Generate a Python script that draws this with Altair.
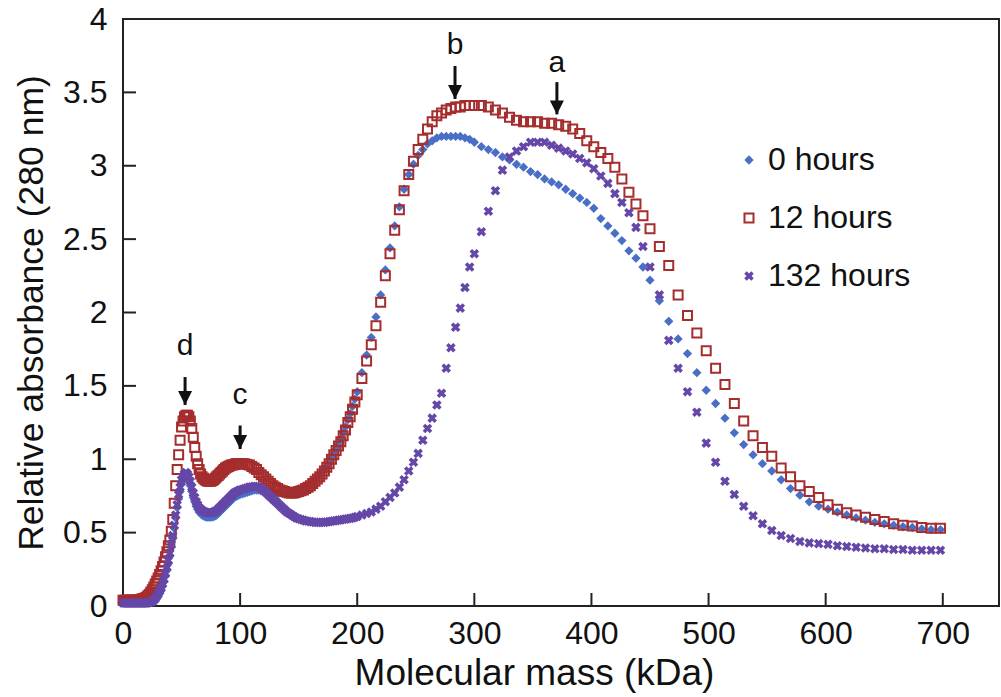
import altair as alt
import pandas as pd

# ---------------- data ----------------
mass_kda = [
    0, 1.25, 2.5, 3.75, 5, 6.25, 7.5, 8.75, 10, 11.25,
    12.5, 13.75, 15, 16.25, 17.5, 18.75, 20, 21.25, 22.5, 23.75,
    25, 26.25, 27.5, 28.75, 30, 31.25, 32.5, 33.75, 35, 36.25,
    37.5, 38.75, 40, 41.25, 42.5, 43.75, 45, 46.25, 47.5, 48.75,
    50, 51.25, 52.5, 53.75, 55, 56.25, 57.5, 58.75, 60, 61.25,
    62.5, 63.75, 65, 66.25, 67.5, 68.75, 70, 71.25, 72.5, 73.75,
    75, 76.25, 77.5, 78.75, 80, 81.25, 82.5, 83.75, 85, 86.25,
    87.5, 88.75, 90, 91.25, 92.5, 93.75, 95, 96.25, 97.5, 98.75,
    100,
    102, 104, 106, 108, 110, 112, 114, 116, 118, 120,
    122, 124, 126, 128, 130, 132, 134, 136, 138, 140,
    142, 144, 146, 148, 150, 152, 154, 156, 158, 160,
    162, 164, 166, 168, 170, 172, 174, 176, 178, 180,
    182, 184, 186, 188, 190, 192, 194, 196, 198, 200,
    204, 208, 212, 216, 220, 224, 228, 232, 236, 240, 244, 248, 252, 256, 260, 264, 268, 272, 276, 280,
    284, 288, 292, 296,
    300, 306, 312, 318, 324, 330, 336, 342, 348, 354, 360, 366, 372, 378, 384, 390, 396, 402, 408, 414,
    420, 426, 432, 438, 444, 450,
    458, 466, 474, 482, 490, 498, 506, 514, 522, 530, 538, 546, 554, 562, 570, 578, 586, 594, 602, 610,
    618, 626, 634, 642, 650, 658, 666, 674, 682, 690, 698]

abs_0h = [
    0.02, 0.02, 0.02, 0.02, 0.02, 0.02, 0.02, 0.02, 0.02, 0.02,
    0.02, 0.02, 0.02, 0.02, 0.02, 0.02, 0.02, 0.02, 0.022, 0.025,
    0.028, 0.035, 0.045, 0.06, 0.075, 0.095, 0.115, 0.14, 0.17, 0.21,
    0.25, 0.29, 0.34, 0.40, 0.46, 0.53, 0.60, 0.67, 0.73, 0.78,
    0.83, 0.86, 0.87, 0.88, 0.87, 0.85, 0.82, 0.78, 0.74, 0.71,
    0.68, 0.66, 0.64, 0.63, 0.62, 0.615, 0.61, 0.605, 0.605, 0.605,
    0.605, 0.607, 0.61, 0.615, 0.62, 0.63, 0.64, 0.65, 0.66, 0.67,
    0.68, 0.69, 0.70, 0.71, 0.72, 0.73, 0.74, 0.745, 0.75, 0.755,
    0.76,
    0.765, 0.77, 0.775, 0.78, 0.785, 0.79, 0.79, 0.79, 0.785, 0.78,
    0.775, 0.77, 0.77, 0.77, 0.77, 0.77, 0.77, 0.77, 0.77, 0.77,
    0.77, 0.77, 0.775, 0.78, 0.785, 0.79, 0.80, 0.81, 0.82, 0.83,
    0.845, 0.86, 0.875, 0.89, 0.91, 0.93, 0.955, 0.98, 1.01, 1.04,
    1.07, 1.10, 1.14, 1.18, 1.22, 1.27, 1.31, 1.36, 1.41, 1.46,
    1.59, 1.71, 1.83, 1.97, 2.12, 2.29, 2.44, 2.59, 2.72, 2.84, 2.94, 3.01, 3.07, 3.11, 3.15, 3.17, 3.19, 3.20,
    3.20, 3.20, 3.20, 3.20, 3.19, 3.18,
    3.16, 3.13, 3.11, 3.09, 3.06, 3.04, 3.01, 2.99, 2.96, 2.94, 2.91, 2.89, 2.87, 2.84, 2.81, 2.78, 2.75, 2.71,
    2.64, 2.59, 2.54, 2.49, 2.42, 2.37, 2.31, 2.22,
    2.08, 1.94, 1.82, 1.72, 1.59, 1.47, 1.38, 1.28, 1.18, 1.10, 1.03, 0.97, 0.92, 0.86, 0.80, 0.755, 0.71, 0.68,
    0.66, 0.64, 0.62, 0.60, 0.585, 0.57, 0.56, 0.55, 0.54, 0.535, 0.525, 0.52, 0.52]

abs_12h = [
    0.04, 0.04, 0.04, 0.04, 0.04, 0.04, 0.04, 0.04, 0.04, 0.04,
    0.04, 0.045, 0.045, 0.05, 0.05, 0.055, 0.06, 0.07, 0.08, 0.095,
    0.11, 0.13, 0.15, 0.17, 0.19, 0.215, 0.24, 0.27, 0.30, 0.335,
    0.37, 0.41, 0.45, 0.51, 0.59, 0.70, 0.82, 0.93, 1.03, 1.13,
    1.22, 1.26, 1.29, 1.30, 1.30, 1.29, 1.26, 1.21, 1.15, 1.08,
    1.02, 0.97, 0.93, 0.90, 0.88, 0.87, 0.86, 0.855, 0.85, 0.85,
    0.85, 0.855, 0.86, 0.87, 0.88, 0.89, 0.90, 0.91, 0.92, 0.93,
    0.94, 0.945, 0.95, 0.955, 0.96, 0.96, 0.965, 0.97, 0.97, 0.97,
    0.97,
    0.97, 0.97, 0.965, 0.96, 0.95, 0.94, 0.93, 0.91, 0.895, 0.88,
    0.865, 0.85, 0.835, 0.82, 0.81, 0.80, 0.79, 0.785, 0.78, 0.775,
    0.77, 0.77, 0.77, 0.775, 0.78, 0.785, 0.79, 0.80, 0.81, 0.82,
    0.835, 0.85, 0.865, 0.88, 0.90, 0.92, 0.945, 0.97, 1.00, 1.03,
    1.06, 1.09, 1.12, 1.16, 1.20, 1.25, 1.29, 1.34, 1.39, 1.44,
    1.55, 1.67, 1.78, 1.91, 2.07, 2.25, 2.40, 2.56, 2.70, 2.83, 2.94, 3.03, 3.11, 3.18, 3.25, 3.30, 3.34, 3.36,
    3.38, 3.39, 3.40, 3.40, 3.41, 3.41,
    3.41, 3.41, 3.40, 3.38, 3.36, 3.33, 3.31, 3.30, 3.30, 3.30, 3.29, 3.29, 3.28, 3.27, 3.25, 3.22, 3.17, 3.13,
    3.09, 3.05, 2.99, 2.91, 2.82, 2.74, 2.66, 2.57,
    2.45, 2.32, 2.12, 1.98, 1.86, 1.74, 1.62, 1.51, 1.38, 1.26, 1.16, 1.08, 1.02, 0.94, 0.88, 0.82, 0.78, 0.74,
    0.69, 0.66, 0.635, 0.62, 0.605, 0.59, 0.575, 0.56, 0.55, 0.545, 0.535, 0.53, 0.53]

abs_132h = [
    0.02, 0.02, 0.02, 0.02, 0.02, 0.02, 0.02, 0.02, 0.02, 0.02,
    0.02, 0.02, 0.02, 0.02, 0.02, 0.02, 0.02, 0.022, 0.025, 0.027,
    0.03, 0.04, 0.05, 0.065, 0.08, 0.10, 0.12, 0.15, 0.18, 0.22,
    0.26, 0.31, 0.36, 0.42, 0.48, 0.55, 0.62, 0.69, 0.76, 0.81,
    0.86, 0.88, 0.90, 0.91, 0.90, 0.88, 0.85, 0.81, 0.77, 0.74,
    0.71, 0.69, 0.67, 0.66, 0.65, 0.645, 0.64, 0.635, 0.635, 0.635,
    0.635, 0.637, 0.64, 0.645, 0.65, 0.66, 0.67, 0.68, 0.69, 0.70,
    0.71, 0.72, 0.73, 0.74, 0.75, 0.76, 0.77, 0.775, 0.78, 0.785,
    0.79,
    0.795, 0.80, 0.805, 0.81, 0.813, 0.815, 0.815, 0.81, 0.80, 0.79,
    0.775, 0.76, 0.745, 0.73, 0.715, 0.70, 0.685, 0.67, 0.655, 0.64,
    0.63, 0.62, 0.61, 0.60, 0.595, 0.59, 0.585, 0.58, 0.578, 0.575,
    0.572, 0.57, 0.57, 0.57, 0.57, 0.57, 0.572, 0.575, 0.577, 0.58,
    0.582, 0.585, 0.587, 0.59, 0.592, 0.595, 0.597, 0.60, 0.605, 0.61,
    0.62, 0.63, 0.64, 0.66, 0.68, 0.71, 0.74, 0.77, 0.81, 0.86, 0.92, 0.98, 1.04, 1.13, 1.21, 1.28, 1.37, 1.45,
    1.62, 1.76, 1.90, 2.03, 2.17, 2.31,
    2.40, 2.55, 2.69, 2.83, 2.97, 3.06, 3.10, 3.13, 3.16, 3.16, 3.16, 3.14, 3.12, 3.10, 3.08, 3.05, 3.02, 2.98,
    2.93, 2.88, 2.81, 2.75, 2.68, 2.58, 2.45, 2.31,
    2.12, 1.81, 1.62, 1.46, 1.32, 1.11, 0.98, 0.85, 0.76, 0.68, 0.615, 0.56, 0.515, 0.48, 0.46, 0.44, 0.43,
    0.425, 0.42, 0.41, 0.405, 0.40, 0.395, 0.39, 0.39, 0.385, 0.385, 0.38, 0.38, 0.38, 0.38]

series_names = ["0 hours", "12 hours", "132 hours"]
series_values = [abs_0h, abs_12h, abs_132h]

peak_labels = ["d", "c", "b", "a"]
peak_mass = [53, 100, 283.5, 370.5]
arrow_tail = [1.56, 1.23, 3.68, 3.57]
arrow_tip = [1.37, 1.07, 3.455, 3.35]
peak_label_y = [1.77, 1.44, 3.82, 3.70]

x_label_values = [0, 100, 200, 300, 400, 500, 600, 700]
y_label_values = [0, 0.5, 1, 1.5, 2, 2.5, 3, 3.5, 4]
x_tick_values = [100, 200, 300, 400, 500, 600, 700]
y_tick_values = [0.5, 1, 1.5, 2, 2.5, 3, 3.5]

# ---------------- styling ----------------
FONT = "Liberation Sans"
series_stroke = ["#4a6fc6", "#a52d2d", "#6547a8"]
series_fill = ["#4a6fc6", "transparent", "#6547a8"]
DIAMOND = "M0,-0.72L0.72,0L0,0.72L-0.72,0Z"
SQUARE = "M-1,-1L1,-1L1,1L-1,1Z"
XSHAPE = ("M-0.75,-0.5L-0.5,-0.75L0,-0.25L0.5,-0.75L0.75,-0.5L0.25,0L0.75,0.5L0.5,0.75"
          "L0,0.25L-0.5,0.75L-0.75,0.5L-0.25,0Z")
ARROWHEAD = "M-1,-2L1,-2L0,0Z"

rows = []
for name, vals in zip(series_names, series_values):
    for m, v in zip(mass_kda, vals):
        rows.append({"series": name, "mass": m, "absorbance": v})
df = pd.DataFrame(rows)

ann = pd.DataFrame({"label": peak_labels, "mass": peak_mass, "tail": arrow_tail,
                    "tip": arrow_tip, "ly": peak_label_y})

xscale = alt.Scale(domain=[0, 748], nice=False, zero=False)
yscale = alt.Scale(domain=[0, 4], nice=False)
XT = "Molecular mass (kDa)"
YT = "Relative absorbance (280 nm)"

legend = alt.Legend(title=None, orient="none", legendX=610, legendY=125, labelFontSize=32,
                    labelFont=FONT, labelColor="#111", symbolSize=81, symbolStrokeWidth=2,
                    symbolOpacity=1, rowPadding=26, labelOffset=3, padding=0)

x_axis = alt.Axis(values=x_label_values, ticks=False, tickSize=0, domain=False, grid=False,
                  labelFontSize=32, labelPadding=12, labelFlush=False, titleFontSize=37,
                  titlePadding=6, titleX=411, format="d")
y_axis = alt.Axis(values=y_label_values, ticks=False, tickSize=0, domain=False, grid=False,
                  labelFontSize=32, labelPadding=16, labelFlush=False, titleFontSize=35.5,
                  titlePadding=13, format="~g")


def X(field):
    return alt.X(field, scale=xscale, axis=x_axis, title=XT)


def Y(field):
    return alt.Y(field, scale=yscale, axis=y_axis, title=YT)


points = alt.Chart(df).mark_point(size=81, strokeWidth=2, opacity=1, clip=False).encode(
    x=X("mass:Q"),
    y=Y("absorbance:Q"),
    shape=alt.Shape("series:N", scale=alt.Scale(domain=series_names, range=[DIAMOND, SQUARE, XSHAPE]),
                    legend=legend),
    stroke=alt.Stroke("series:N", scale=alt.Scale(domain=series_names, range=series_stroke), legend=legend),
    fill=alt.Fill("series:N", scale=alt.Scale(domain=series_names, range=series_fill), legend=legend),
)

xticks = alt.Chart(pd.DataFrame({"v": x_tick_values})).mark_rule(color="#222", strokeWidth=2).encode(
    x=X("v:Q"), y=alt.value(587), y2=alt.value(574))
yticks = alt.Chart(pd.DataFrame({"v": y_tick_values})).mark_rule(color="#222", strokeWidth=2).encode(
    y=Y("v:Q"), x=alt.value(0), x2=alt.value(13))

shafts = alt.Chart(ann).mark_rule(color="#111", strokeWidth=3).encode(
    x=X("mass:Q"), y=Y("tail:Q"), y2="tip:Q")
heads = alt.Chart(ann).mark_point(shape=ARROWHEAD, size=196, filled=True, color="#111", opacity=1).encode(
    x=X("mass:Q"), y=Y("tip:Q"))
letters = alt.Chart(ann).mark_text(font=FONT, fontSize=30, color="#111", align="center",
                                   baseline="middle").encode(
    x=X("mass:Q"), y=Y("ly:Q"), text="label:N")

chart = alt.layer(points, xticks, yticks, shafts, heads, letters).properties(
    width=876, height=587,
    autosize=alt.AutoSizeParams(type="none"),
    padding={"left": 123, "top": 19, "right": 2, "bottom": 91},
    background="white",
).configure_view(stroke="#222", strokeWidth=2).configure_axis(
    labelFont=FONT, titleFont=FONT, labelColor="#111", titleColor="#111", titleFontWeight="normal"
)

chart.save("out.html", embed_options={"renderer": "svg", "actions": False})
